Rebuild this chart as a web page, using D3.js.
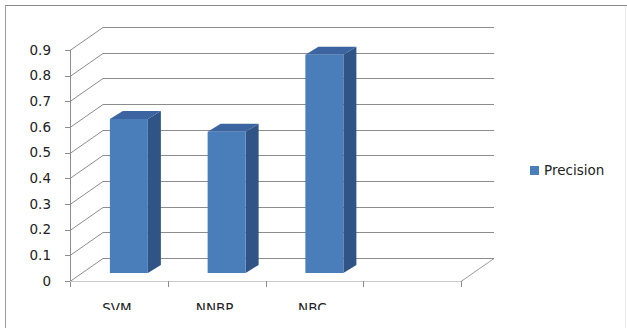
<!DOCTYPE html>
<html>
<head>
<meta charset="utf-8">
<script src="https://cdn.jsdelivr.net/npm/d3@7"></script>
<style>
  body { margin: 0; background: #fff; }
  svg { display: block; font-family: "DejaVu Sans", sans-serif; }
</style>
</head>
<body>
<svg width="627" height="328"></svg>
<script>
// data
const categories = ["SVM", "NNBP", "NBC", ""];
const precision = [0.60, 0.55, 0.85, null];
const yTicks = [0, 0.1, 0.2, 0.3, 0.4, 0.5, 0.6, 0.7, 0.8, 0.9];
const seriesName = "Precision";

const svg = d3.select("svg");

// 3d look: back wall is shifted up-right from the front plane
const depthX = 33, depthY = -23;
const barDX = 12, barDY = -8;     // bar front sits a bit inside
const barDepthX = 13, barDepthY = -8;

const x = d3.scaleBand().domain(categories).range([70, 461]);
const y = d3.scaleLinear().domain([0, 0.9]).range([281, 50]);

// frame
svg.append("line").attr("x1", 5).attr("x2", 627).attr("y1", 5.5).attr("y2", 5.5)
  .attr("stroke", "#8a8a8a").attr("stroke-width", 1.2);
svg.append("line").attr("x1", 5.5).attr("x2", 5.5).attr("y1", 5).attr("y2", 328)
  .attr("stroke", "#9a9a9a");
svg.append("line").attr("x1", 625.5).attr("x2", 625.5).attr("y1", 6).attr("y2", 328)
  .attr("stroke", "#ececec");

// back wall gridlines + left wall diagonals
const grid = svg.append("g");
yTicks.forEach(t => {
  const yf = Math.round(y(t)) + 0.5;
  grid.append("line")
    .attr("x1", 70 + depthX).attr("x2", 461 + depthX)
    .attr("y1", yf + depthY).attr("y2", yf + depthY)
    .attr("stroke", "#8c8c8c").attr("stroke-width", 1.2);
  grid.append("line")
    .attr("x1", 70).attr("y1", yf)
    .attr("x2", 70 + depthX).attr("y2", yf + depthY)
    .attr("stroke", "#8c8c8c").attr("stroke-width", 1);
  grid.append("line")
    .attr("x1", 65).attr("x2", 70).attr("y1", yf).attr("y2", yf)
    .attr("stroke", "#8c8c8c");
});

// front axis + floor
svg.append("line").attr("x1", 70.5).attr("x2", 70.5).attr("y1", y(0.9)).attr("y2", y(0) + 6)
  .attr("stroke", "#8c8c8c");
svg.append("line").attr("x1", 70).attr("x2", 461).attr("y1", y(0) + 0.5).attr("y2", y(0) + 0.5)
  .attr("stroke", "#c8c8c8");
svg.append("line").attr("x1", 461).attr("y1", y(0) + 0.5)
  .attr("x2", 461 + depthX).attr("y2", y(0) + 0.5 + depthY)
  .attr("stroke", "#9a9a9a");
categories.forEach(c => {
  const xe = Math.round(x(c) + x.bandwidth()) + 0.5;
  svg.append("line").attr("x1", xe).attr("x2", xe).attr("y1", y(0)).attr("y2", y(0) + 6)
    .attr("stroke", "#8c8c8c");
});

// y labels
svg.append("g").selectAll("text").data(yTicks).join("text")
  .attr("x", 51).attr("y", d => y(d)).attr("dy", "0.35em")
  .attr("text-anchor", "end").attr("font-size", 13.5).attr("fill", "#222")
  .text(d => d === 0 ? "0" : d3.format(".1f")(d));

// x labels, clipped at the bottom like the picture
svg.append("clipPath").attr("id", "cut").append("rect")
  .attr("x", 0).attr("y", 0).attr("width", 627).attr("height", 310);
svg.append("g").attr("clip-path", "url(#cut)").selectAll("text")
  .data(categories.filter(c => c)).join("text")
  .attr("x", d => x(d) + x.bandwidth() / 2 - 2).attr("y", 313)
  .attr("text-anchor", "middle").attr("font-size", 13.5).attr("fill", "#222")
  .text(d => d);

// bars
const barW = 38;
const bars = svg.append("g");
categories.forEach((c, i) => {
  const v = precision[i];
  if (v == null) return;
  const x0 = x(c) + x.bandwidth() / 2 - barW / 2 + barDX - 2;
  const x1 = x0 + barW;
  const yb = y(0) + barDY;
  const yt = y(v) + barDY;
  // side
  bars.append("path")
    .attr("d", `M${x1},${yt}L${x1 + barDepthX},${yt + barDepthY}L${x1 + barDepthX},${yb + barDepthY}L${x1},${yb}Z`)
    .attr("fill", "#2f5485");
  // top
  bars.append("path")
    .attr("d", `M${x0},${yt}L${x0 + barDepthX},${yt + barDepthY}L${x1 + barDepthX},${yt + barDepthY}L${x1},${yt}Z`)
    .attr("fill", "#3b64a0");
  // front
  bars.append("rect").attr("x", x0).attr("y", yt).attr("width", barW).attr("height", yb - yt)
    .attr("fill", "#4a7ebb");
});

// legend
svg.append("rect").attr("x", 530).attr("y", 166).attr("width", 9).attr("height", 9).attr("fill", "#4a7ebb");
svg.append("text").attr("x", 544).attr("y", 170.5).attr("dy", "0.35em")
  .attr("font-size", 13.5).attr("fill", "#222").text(seriesName);
</script>
</body>
</html>
